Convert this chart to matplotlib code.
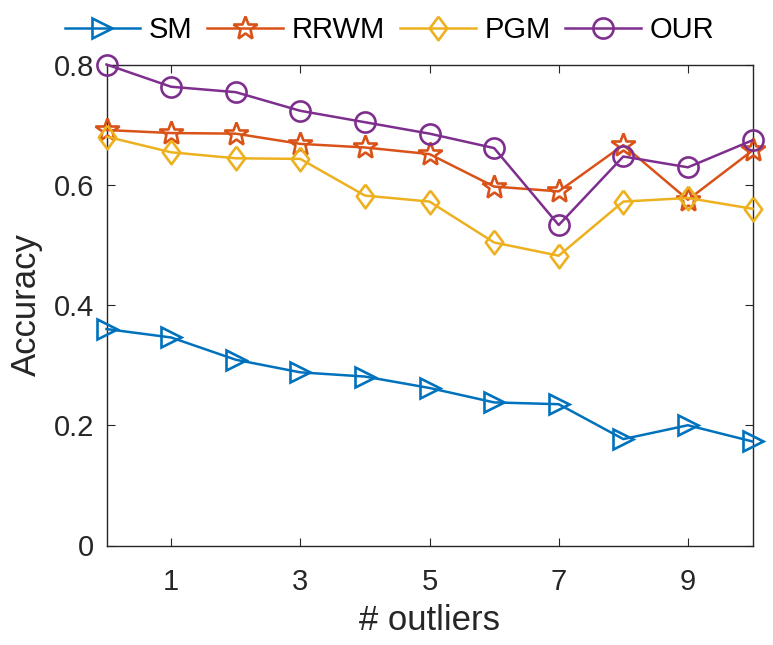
import matplotlib
matplotlib.use("Agg")
import matplotlib.pyplot as plt

plt.rcParams['font.family'] = ['Liberation Sans', 'DejaVu Sans']

x = list(range(0, 11))
sm = [0.360, 0.346, 0.309, 0.288, 0.281, 0.262, 0.238, 0.235, 0.177, 0.200, 0.173]
rrwm = [0.691, 0.686, 0.685, 0.668, 0.662, 0.651, 0.597, 0.589, 0.666, 0.575, 0.657]
pgm = [0.680, 0.654, 0.644, 0.643, 0.582, 0.572, 0.504, 0.482, 0.572, 0.578, 0.560]
our = [0.800, 0.763, 0.754, 0.723, 0.704, 0.685, 0.661, 0.533, 0.647, 0.629, 0.674]
labels = ['SM', 'RRWM', 'PGM', 'OUR']
xticks = [1, 3, 5, 7, 9]
yticks = [0, 0.2, 0.4, 0.6, 0.8]
yticklabels = ['0', '0.2', '0.4', '0.6', '0.8']

fig = plt.figure(figsize=(7.73, 6.45), dpi=100)
ax = fig.add_axes([106.5/773, 1-545.5/645, (752.5-106.5)/773, (545.5-64.5)/645])

diamond = [(0, 1), (0.74, 0), (0, -1), (-0.74, 0), (0, 1)]
styles = [
    (sm, '#0072BD', '>', 15),
    (rrwm, '#D95319', '*', 18),
    (pgm, '#EDB120', diamond, 17),
    (our, '#7E2F8E', 'o', 14.5),
]
for (vals, c, m, ms), lab in zip(styles, labels):
    ax.plot(x, vals, color=c, marker=m, markersize=ms, markerfacecolor='none',
            markeredgewidth=1.9, linewidth=1.8, label=lab, clip_on=False, zorder=3)

ax.set_xlim(0, 10)
ax.set_ylim(0, 0.8)
ax.set_xticks(xticks)
ax.set_yticks(yticks)
ax.set_yticklabels(yticklabels)
ax.tick_params(direction='in', top=True, right=True, labelsize=21, length=6,
               width=0.8, colors='#262626')
ax.tick_params(axis='x', pad=16)
ax.tick_params(axis='y', pad=9)
for s in ax.spines.values():
    s.set_color('#262626')
    s.set_linewidth(1.0)
ax.set_xlabel('# outliers', fontsize=25, color='#262626', labelpad=6)
ax.set_ylabel('Accuracy', fontsize=25, color='#262626', labelpad=8)

leg = ax.legend(loc='center', bbox_to_anchor=(0.438, (645-30)/481 - (645-545.5)/481),
                ncol=4, frameon=False,
                fontsize=21, handlelength=2.6, columnspacing=0.5, handletextpad=0.3,
                borderaxespad=0, borderpad=0)
fig.savefig('out.png', dpi=100)
